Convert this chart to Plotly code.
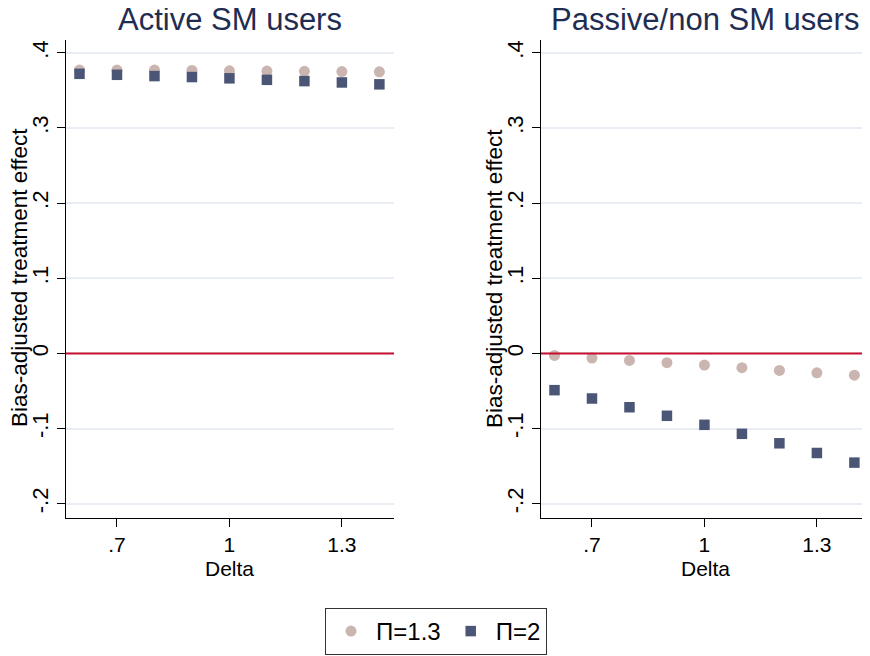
import plotly.graph_objects as go

delta = [0.6, 0.7, 0.8, 0.9, 1.0, 1.1, 1.2, 1.3, 1.4]
active_pi13 = [0.377, 0.377, 0.377, 0.3765, 0.376, 0.3757, 0.3753, 0.375, 0.3747]
active_pi2 = [0.372, 0.3707, 0.369, 0.3677, 0.366, 0.364, 0.3623, 0.3605, 0.358]
passive_pi13 = [-0.0027, -0.0062, -0.0093, -0.0124, -0.0155, -0.019, -0.0226, -0.0258, -0.0289]
passive_pi2 = [-0.0489, -0.060, -0.0716, -0.083, -0.095, -0.107, -0.1196, -0.1325, -0.1453]

panel_titles = ["Active SM users", "Passive/non SM users"]
series_names = ["\u03a0=1.3", "\u03a0=2"]
ytickvals = [-0.2, -0.1, 0, 0.1, 0.2, 0.3, 0.4]
yticktext = ["-.2", "-.1", "0", ".1", ".2", ".3", ".4"]
xtickvals = [0.7, 1.0, 1.3]
xticktext = [".7", "1", "1.3"]

C13 = "#cbb5b0"
C2 = "#4b5677"
FONT = "Liberation Sans, Arial, sans-serif"
OFF = 8  # page body margin
W, H = 870 - OFF, 656 - OFF


def px(v):
    return (v - OFF) / W


def py(v):
    return 1 - (v - OFF) / H


fig = go.Figure()

panels = [(active_pi13, active_pi2, "x", "y"), (passive_pi13, passive_pi2, "x2", "y2")]
for i, (a, b, xa, ya) in enumerate(panels):
    fig.add_trace(go.Scatter(x=delta, y=a, mode="markers", name=series_names[0],
                             marker=dict(symbol="circle", size=11, color=C13),
                             xaxis=xa, yaxis=ya, showlegend=(i == 0)))
    fig.add_trace(go.Scatter(x=delta, y=b, mode="markers", name=series_names[1],
                             marker=dict(symbol="square", size=10.5, color=C2),
                             xaxis=xa, yaxis=ya, showlegend=(i == 0)))

ydom = [py(518), py(40)]
xdoms = [[px(66), px(394)], [px(541), px(869)]]

axis_common_x = dict(range=[0.564, 1.439], tickvals=xtickvals, ticktext=xticktext,
                     showline=True, linecolor="black", linewidth=1, ticks="outside",
                     ticklen=8, tickcolor="black", showgrid=False, zeroline=False,
                     tickfont=dict(size=21, color="black", family=FONT))
axis_common_y = dict(range=[-0.219, 0.417], tickvals=ytickvals, ticktext=yticktext,
                     showline=True, linecolor="black", linewidth=1, ticks="outside",
                     ticklen=8, tickcolor="black", showgrid=True, gridcolor="#e8eef3",
                     gridwidth=1.5, zeroline=False, tickangle=-90,
                     tickfont=dict(size=22, color="black", family=FONT))

fig.update_layout(
    width=W, height=H,
    margin=dict(l=0, r=0, t=0, b=0),
    paper_bgcolor="white", plot_bgcolor="white",
    font=dict(family=FONT, color="black"),
    xaxis=dict(domain=xdoms[0], anchor="y", **axis_common_x),
    yaxis=dict(domain=ydom, anchor="x", **axis_common_y),
    xaxis2=dict(domain=xdoms[1], anchor="y2", **axis_common_x),
    yaxis2=dict(domain=ydom, anchor="x2", **axis_common_y),
    legend=dict(orientation="h", x=px(436), xanchor="center", y=py(655), yanchor="bottom",
                bordercolor="#333333", borderwidth=1, font=dict(size=24, family=FONT),
                itemwidth=40, tracegroupgap=0),
)

for xa, ya in [("x", "y"), ("x2", "y2")]:
    fig.add_shape(type="line", xref=f"{xa} domain", yref=ya, x0=0, x1=1, y0=0, y1=0,
                  line=dict(color="#c8102e", width=2), layer="above")

annotations = []
centers = [230, 705]
ytitle_x = [19, 494]
for i in range(2):
    annotations.append(dict(text=panel_titles[i], x=px(centers[i]), y=py(20),
                            xref="paper", yref="paper", showarrow=False,
                            font=dict(size=31, color="#1f2d52", family=FONT),
                            xanchor="center", yanchor="middle"))
    annotations.append(dict(text="Delta", x=px(centers[i]), y=py(568),
                            xref="paper", yref="paper", showarrow=False,
                            font=dict(size=21, color="black", family=FONT),
                            xanchor="center", yanchor="middle"))
    annotations.append(dict(text="Bias-adjusted treatment effect", x=px(ytitle_x[i]),
                            y=py(278), xref="paper", yref="paper", showarrow=False,
                            textangle=-90, font=dict(size=22.5, color="black", family=FONT),
                            xanchor="center", yanchor="middle"))
fig.update_layout(annotations=annotations)

fig.write_html("out.html")
